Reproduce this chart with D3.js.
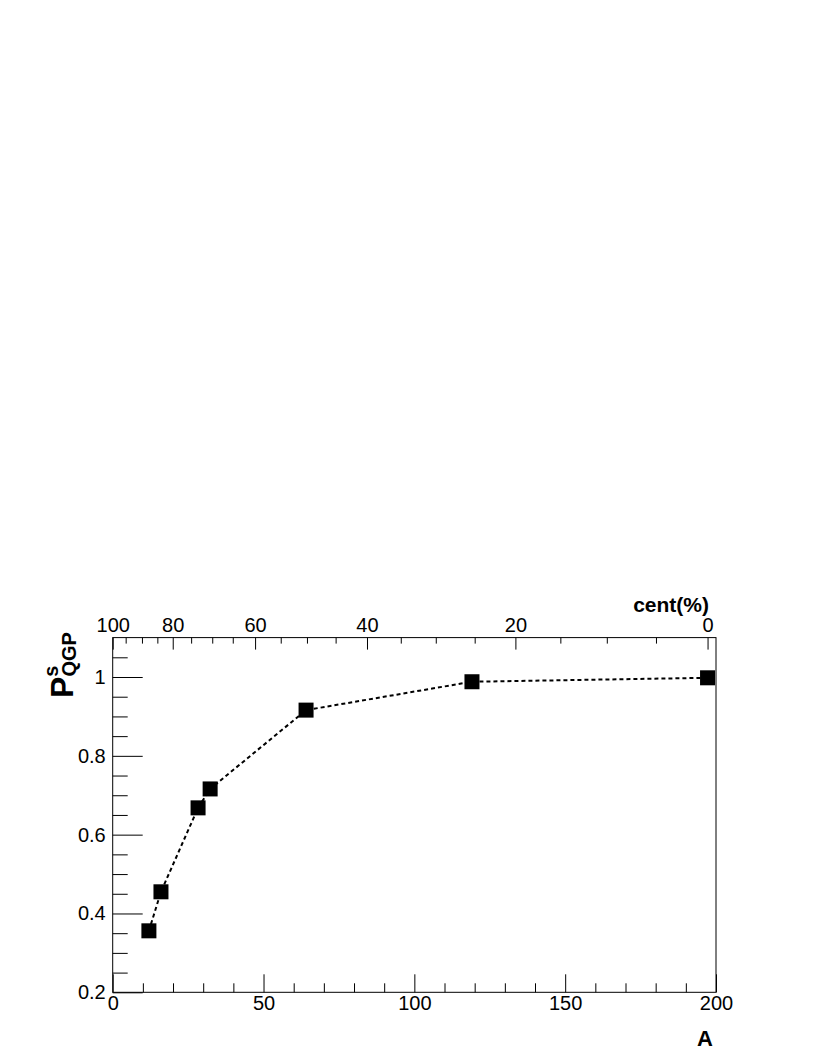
<!DOCTYPE html>
<html>
<head>
<meta charset="utf-8">
<script src="https://cdn.jsdelivr.net/npm/d3@7"></script>
<style>
  body { margin: 0; background: #fff; }
  svg { display: block; }
</style>
</head>
<body>
<svg id="chart"></svg>
<script>
// graph points: A vs P^s_QGP
var aValues = [12.0, 16.0, 28.3, 32.3, 64.1, 119.1, 197.2]
var pValues = [0.356, 0.455, 0.668, 0.716, 0.916, 0.988, 0.998]

// bottom axis (A)
var aMajor = [0, 50, 100, 150, 200]
var aMinor = [10, 20, 30, 40, 60, 70, 80, 90, 110, 120, 130, 140, 160, 170, 180, 190]

// left axis (P)
var pMajor = [0.2, 0.4, 0.6, 0.8, 1.0]
var pMinor = [0.25, 0.3, 0.35, 0.45, 0.5, 0.55, 0.65, 0.7, 0.75, 0.85, 0.9, 0.95, 1.05]

// top axis: centrality labels placed at their A values
var centMajor = [100, 80, 60, 40, 20, 0]
var centMajorA = [0, 19.9, 47.2, 84.3, 133.5, 197.2]
var centMinor = [95, 90, 85, 75, 70, 65, 55, 50, 45, 35, 30, 25, 15, 10, 5]
var centMinorA = [4.3, 9.7, 14.8, 26.0, 33.0, 39.8, 55.7, 64.4, 73.9, 95.5, 107.1, 120.0, 148.4, 163.8, 180.1]

var dimensions = {
    width: 814,
    height: 1053,
    margin: { top: 637.6, bottom: 60.7, left: 112.7, right: 98 }
}

var svg = d3.select("#chart")
    .attr("width", dimensions.width)
    .attr("height", dimensions.height)
    .style("font-family", "'Liberation Sans', Arial, sans-serif")

svg.append("rect")
    .attr("width", dimensions.width)
    .attr("height", dimensions.height)
    .attr("fill", "#fff")

var xScale = d3.scaleLinear()
    .domain([0, 200])
    .range([dimensions.margin.left, dimensions.width - dimensions.margin.right])

var yScale = d3.scaleLinear()
    .domain([0.2, 1.1])
    .range([dimensions.height - dimensions.margin.bottom, dimensions.margin.top])

var bottomY = yScale(0.2)
var topY = yScale(1.1)
var leftX = xScale(0)

function styleAxis(g) {
    g.select(".domain").remove()
    g.selectAll("line").attr("stroke", "#000").attr("stroke-width", 1)
    g.selectAll("text").attr("fill", "#000").attr("font-size", 20)
}

// bottom axis, ticks pointing inside
svg.append("g")
    .attr("transform", `translate(0,${bottomY})`)
    .call(d3.axisBottom(xScale).tickValues(aMinor).tickSize(-9).tickFormat(""))
    .call(styleAxis)
svg.append("g")
    .attr("transform", `translate(0,${bottomY})`)
    .call(d3.axisBottom(xScale).tickValues(aMajor).tickSize(-18).tickPadding(4).tickFormat(d3.format("d")))
    .call(styleAxis)

// left axis
svg.append("g")
    .attr("transform", `translate(${leftX},0)`)
    .call(d3.axisLeft(yScale).tickValues(pMinor).tickSize(-15).tickFormat(""))
    .call(styleAxis)
svg.append("g")
    .attr("transform", `translate(${leftX},0)`)
    .call(d3.axisLeft(yScale).tickValues(pMajor).tickSize(-30).tickPadding(7).tickFormat(d => d == 1 ? "1" : d3.format(".1f")(d)))
    .call(styleAxis)

// top axis (centrality)
svg.append("g")
    .attr("transform", `translate(0,${topY})`)
    .call(d3.axisTop(xScale).tickValues(centMinorA).tickSize(-6).tickFormat(""))
    .call(styleAxis)
svg.append("g")
    .attr("transform", `translate(0,${topY})`)
    .call(d3.axisTop(xScale).tickValues(centMajorA).tickSize(-12).tickPadding(6)
        .tickFormat((d, i) => centMajor[i]))
    .call(styleAxis)

// frame
svg.append("rect")
    .attr("x", leftX)
    .attr("y", topY)
    .attr("width", xScale(200) - leftX)
    .attr("height", bottomY - topY)
    .attr("fill", "none")
    .attr("stroke", "#000")
    .attr("stroke-width", 1)

var data = aValues.map((a, i) => ({ a: a, p: pValues[i] }))

svg.append("path")
    .datum(data)
    .attr("fill", "none")
    .attr("stroke", "#000")
    .attr("stroke-width", 2)
    .attr("stroke-dasharray", "4,3")
    .attr("d", d3.line().x(d => xScale(d.a)).y(d => yScale(d.p)))

var size = 15
svg.selectAll(".marker")
    .data(data)
    .enter()
    .append("rect")
    .attr("class", "marker")
    .attr("x", d => xScale(d.a) - size / 2)
    .attr("y", d => yScale(d.p) - size / 2)
    .attr("width", size)
    .attr("height", size)
    .attr("fill", "#000")

// axis titles
svg.append("text")
    .attr("x", 713)
    .attr("y", 1046)
    .attr("text-anchor", "end")
    .attr("font-size", 22)
    .attr("font-weight", "bold")
    .text("A")

svg.append("text")
    .attr("x", 709)
    .attr("y", 612)
    .attr("text-anchor", "end")
    .attr("font-size", 21)
    .attr("font-weight", "bold")
    .text("cent(%)")

var ytitle = svg.append("text")
    .attr("transform", "translate(73,698) rotate(-90)")
    .attr("font-weight", "bold")
ytitle.append("tspan").attr("font-size", 32).text("P")
ytitle.append("tspan").attr("font-size", 20).attr("dy", -15).text("s")
ytitle.append("tspan").attr("font-size", 20).attr("dx", -11).attr("dy", 18).text("QGP")
</script>
</body>
</html>
